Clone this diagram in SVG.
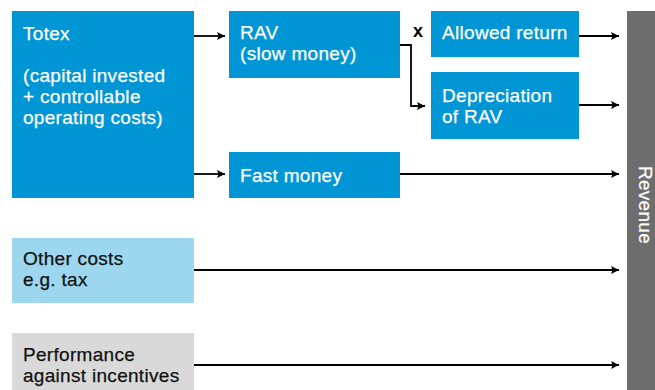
<svg xmlns="http://www.w3.org/2000/svg" width="655" height="390" viewBox="0 0 655 390">
<defs>
<marker id="ah" viewBox="0 0 10 10" refX="10" refY="5" markerWidth="9" markerHeight="8" markerUnits="userSpaceOnUse" orient="auto">
<path d="M0,0 L10,5 L0,10 L2,5 Z" fill="#000"/>
</marker>
<style>
.blue{fill:#0096d6}
.lblue{fill:#9cd6ef}
.grey{fill:#d9d9d9}
.bar{fill:#6d6d6d}
text{font-family:"Liberation Sans",Arial,Helvetica,sans-serif;font-size:19px;letter-spacing:0.3px;stroke-width:0.25px}
.w{fill:#fff;stroke:#fff}
.k{fill:#111;stroke:#111}
.conn path{fill:none;stroke:#000;stroke-width:1.8;marker-end:url(#ah)}
</style>
</defs>
<rect width="655" height="390" fill="#fff"/>
<g id="totex">
<rect class="blue" x="12" y="11" width="182" height="187"/>
<text class="w" x="23" y="40">Totex</text>
<text class="w" x="23" y="82">(capital invested</text>
<text class="w" x="23" y="103">+ controllable</text>
<text class="w" x="23" y="124">operating costs)</text>
</g>
<g id="rav">
<rect class="blue" x="229" y="11" width="171" height="67"/>
<text class="w" x="240" y="39">RAV</text>
<text class="w" x="240" y="60">(slow money)</text>
</g>
<g id="allowed">
<rect class="blue" x="431" y="11" width="148" height="46"/>
<text class="w" x="442" y="39">Allowed return</text>
</g>
<g id="depreciation">
<rect class="blue" x="431" y="72" width="148" height="67"/>
<text class="w" x="442" y="102">Depreciation</text>
<text class="w" x="442" y="123">of RAV</text>
</g>
<g id="fast">
<rect class="blue" x="229" y="152" width="171" height="46"/>
<text class="w" x="240" y="182">Fast money</text>
</g>
<g id="other">
<rect class="lblue" x="12" y="238" width="182" height="65"/>
<text class="k" x="23" y="265">Other costs</text>
<text class="k" x="23" y="286">e.g. tax</text>
</g>
<g id="performance">
<rect class="grey" x="12" y="333" width="182" height="57"/>
<text class="k" x="23" y="361">Performance</text>
<text class="k" x="23" y="382">against incentives</text>
</g>
<g id="revenue">
<rect class="bar" x="627" y="11" width="28" height="379"/>
<text class="w" transform="translate(639,205) rotate(90)" text-anchor="middle">Revenue</text>
</g>
<g class="conn" id="connectors">
<path d="M194,36 H225"/>
<path d="M194,174 H225"/>
<path d="M400,45 H411 V106 H425"/>
<path d="M579,36 H619"/>
<path d="M579,105 H619"/>
<path d="M400,174 H619"/>
<path d="M194,270 H619"/>
<path d="M194,365 H619"/>
<text x="418" y="37" text-anchor="middle" style="font-size:18px;font-weight:bold;letter-spacing:0;stroke:none" fill="#000">x</text>
</g>
</svg>
